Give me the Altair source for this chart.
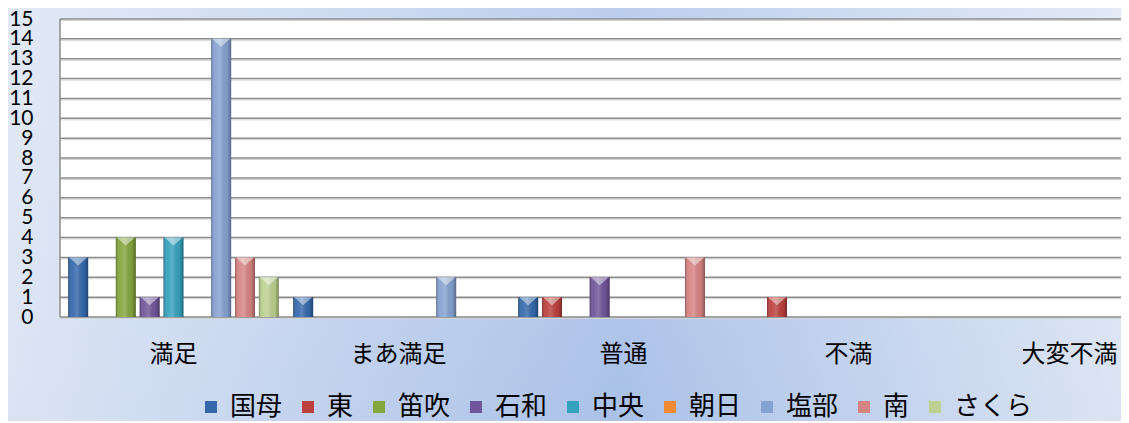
import altair as alt
import pandas as pd

# ---- data ----
categories = ["満足", "まあ満足", "普通", "不満", "大変不満"]
series = ["国母", "東", "笛吹", "石和", "中央", "朝日", "塩部", "南", "さくら"]
kokubo = [3, 1, 1, 0, 0]
higashi = [0, 0, 1, 1, 0]
fuefuki = [4, 0, 0, 0, 0]
isawa = [1, 0, 2, 0, 0]
chuo = [4, 0, 0, 0, 0]
asahi = [0, 0, 0, 0, 0]
shiobe = [14, 2, 0, 0, 0]
minami = [3, 0, 3, 0, 0]
sakura = [2, 0, 0, 0, 0]
y_ticks = list(range(0, 16))
colors = ["#3468ab", "#bc413e", "#84a63e", "#71559a", "#35a2bd",
          "#f08a33", "#85a2d0", "#d68482", "#bcd18f"]

rows = []
for s, vals in zip(series, [kokubo, higashi, fuefuki, isawa, chuo, asahi, shiobe, minami, sakura]):
    for c, v in zip(categories, vals):
        rows.append({"category": c, "series": s, "v": v})
df = pd.DataFrame(rows)
one = pd.DataFrame({"a": [0]})
ticks_df = pd.DataFrame({"v": y_ticks})

# ---- layout ----
W, H = 1061, 298
PAD_L, PAD_T, PAD_B = 52, 11, 104

yenc = alt.Y(
    "v:Q",
    scale=alt.Scale(domain=[0, 15], nice=False, zero=True),
    axis=alt.Axis(values=y_ticks, title=None, grid=False, ticks=False, tickSize=0,
                  domain=False, labelFont="Lato", labelFontSize=21, labelColor="black",
                  labelPadding=27, labelOverlap=False, zindex=2),
)
xenc = alt.X(
    "category:N",
    sort=categories,
    scale=alt.Scale(domain=categories, range=[1, 1126], paddingInner=0, paddingOuter=0),
    axis=alt.Axis(title=None, labelAngle=0, ticks=False, tickSize=0, domain=False, grid=False,
                  labelFont="Noto Sans CJK JP", labelFontSize=24, labelColor="black",
                  labelPadding=25, labelOverlap=False, zindex=2,
                  labelOffset={"condition": {"test": "datum.label == '大変不満'", "value": -4},
                               "value": 0}),
)
xoff = alt.XOffset("series:N", scale=alt.Scale(domain=series, paddingInner=0.16, paddingOuter=0.3))

bg1 = alt.Chart(one).mark_rect(
    color=alt.LinearGradient(
        gradient="linear", x1=0, x2=1, y1=0, y2=0,
        stops=[alt.GradientStop(offset=0, color="#dbe4f4"),
               alt.GradientStop(offset=0.55, color="#aac1e8"),
               alt.GradientStop(offset=1, color="#dbe4f4")])
).encode(x=alt.value(-PAD_L), x2=alt.value(W), y=alt.value(-PAD_T), y2=alt.value(H + PAD_B))

bg2 = alt.Chart(one).mark_rect(
    color=alt.LinearGradient(
        gradient="linear", x1=0, x2=0, y1=0, y2=1,
        stops=[alt.GradientStop(offset=0, color="rgba(255,255,255,0.22)"),
               alt.GradientStop(offset=1, color="rgba(255,255,255,0)")])
).encode(x=alt.value(-PAD_L), x2=alt.value(W), y=alt.value(-PAD_T), y2=alt.value(H + PAD_B))

white = alt.Chart(one).mark_rect(color="white").encode(
    x=alt.value(0), x2=alt.value(W), y=alt.value(0), y2=alt.value(H))

grid_shadow = alt.Chart(ticks_df).mark_rule(color="#d4d4d4", strokeWidth=1, yOffset=1.5).encode(
    y=yenc, x=alt.value(0), x2=alt.value(W))
grid = alt.Chart(ticks_df).mark_rule(color="#8c8c8c", strokeWidth=1.5).encode(
    y=yenc, x=alt.value(0), x2=alt.value(W))
border = alt.Chart(one).mark_rule(color="#8c8c8c", strokeWidth=1.5).encode(
    x=alt.value(0), y=alt.value(0), y2=alt.value(H))

bars = alt.Chart(df).transform_filter("datum.v > 0").mark_bar().encode(
    x=xenc, xOffset=xoff, y=yenc,
    color=alt.Color("series:N", scale=alt.Scale(domain=series, range=colors),
                    legend=alt.Legend(title=None, orient="none", legendX=138, legendY=375,
                                      direction="horizontal", columns=9, symbolType="square",
                                      symbolSize=144, symbolStrokeWidth=0, symbolOpacity=1,
                                      labelFont="Noto Sans CJK JP", labelFontSize=26,
                                      labelColor="black", labelOffset=6, columnPadding=12,
                                      padding=0, zindex=2)),
)

overlay = alt.Chart(df).transform_filter("datum.v > 0").mark_bar(
    color=alt.LinearGradient(
        gradient="linear", x1=0, x2=1, y1=0, y2=0,
        stops=[alt.GradientStop(offset=0, color="rgba(0,0,0,0.32)"),
               alt.GradientStop(offset=0.18, color="rgba(255,255,255,0.05)"),
               alt.GradientStop(offset=0.45, color="rgba(255,255,255,0.18)"),
               alt.GradientStop(offset=0.8, color="rgba(0,0,0,0.05)"),
               alt.GradientStop(offset=1, color="rgba(0,0,0,0.35)")])
).encode(x=xenc, xOffset=xoff, y=yenc)

tri = alt.Chart(df).transform_filter("datum.v > 0").mark_point(
    shape="M -0.9 -0.4 L 0.9 -0.4 L 0 0.4 Z", size=400, filled=True,
    color="white", opacity=0.45, strokeWidth=0, yOffset=4
).encode(x=xenc, xOffset=xoff, y=yenc)

chart = alt.layer(bg1, bg2, white, grid_shadow, grid, border, bars, overlay, tri).properties(
    width=W, height=H,
    padding={"left": PAD_L, "top": PAD_T, "right": 0, "bottom": PAD_B},
    autosize=alt.AutoSizeParams(type="none"),
    background="white",
).configure_view(stroke=None)

chart.save("out.html", embed_options={"renderer": "svg", "actions": False})
